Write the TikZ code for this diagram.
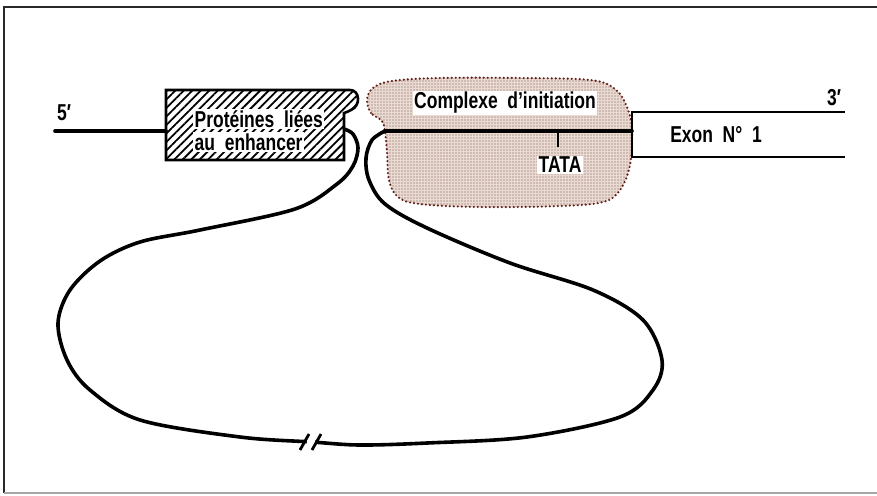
\documentclass[tikz,border=0pt]{standalone}
\usepackage{fontspec}
\setmainfont[FakeStretch=0.76, WordSpace=2]{Liberation Sans}
\usetikzlibrary{patterns.meta}
\definecolor{blobfill}{RGB}{234,218,210}
\definecolor{blobdot}{RGB}{115,85,78}
\definecolor{blobedge}{RGB}{100,30,22}
\definecolor{framec}{RGB}{40,40,40}
\tikzset{
  lbl/.style={font=\fontsize{23}{25}\selectfont\bfseries, fill=white, inner sep=1.5pt},
  endlbl/.style={font=\fontsize{23}{25}\selectfont\bfseries, inner sep=0pt},
  strand/.style={line width=3.6pt, line cap=round, line join=round},
  boxline/.style={line width=2.6pt},
}
\begin{document}
\begin{tikzpicture}[x=1pt, y=-1pt]
\useasboundingbox (0,0) rectangle (877,495);
% frame
\draw[framec, line width=2pt] (880,7) -- (4,7) -- (4,493);
\draw[gray!70, line width=1.2pt] (4,493) -- (880,493);

% complexe d'initiation blob
\def\blobpts{(382,121) (371,113) (367,100) (373,88) (392,81) (440,78) (520,78) (590,80)
 (615,89) (627,107) (632,130) (630,165) (620,190) (603,202) (560,206)
 (480,207) (420,204) (398,197) (389,180) (387,152) (385,132)}
\path[fill=blobfill] plot[smooth cycle, tension=0.6] coordinates {\blobpts};
\path[pattern={Dots[distance=3pt, radius=0.7pt]}, pattern color=blobdot] plot[smooth cycle, tension=0.6] coordinates {\blobpts};
\draw[blobedge, line width=2.4pt, line cap=round, dash pattern=on 0pt off 4pt] plot[smooth cycle, tension=0.6] coordinates {\blobpts};

% hatched box (enhancer proteins)
\coordinate (hbW) at (166,131);
\coordinate (hbE) at (344,129);
\path[fill=white] (166,90) -- (350,90) .. controls (360,90) and (361,106) .. (351,110)
  .. controls (348,112) and (346,112) .. (344,113) -- (344,160) -- (166,160) -- cycle;
\draw[boxline, pattern={Lines[angle=45, distance=6pt, line width=1.8pt]}]
  (166,90) -- (350,90) .. controls (360,90) and (361,106) .. (351,110)
  .. controls (348,112) and (346,112) .. (344,113) -- (344,160) -- (166,160) -- cycle;
\node[lbl, anchor=west] (prot) at (193,119) {Protéines liées};
\node[lbl, anchor=west] (enh) at (193,142) {au enhancer};

% 5' strand
\coordinate (five) at (55,131);
\draw[strand] (five) -- (hbW);
\node[endlbl] (l5) at (64,113) {5′};

% exon box
\coordinate (exTL) at (632,112);
\coordinate (exBL) at (632,157);
\draw[boxline] (845,112) -- (exTL) -- (exBL) -- (845,157);
\node[endlbl] (exon) at (716,135) {Exon N° 1};
\node[endlbl] (l3) at (834,98) {3′};

% promoter line and TATA
\coordinate (pS) at (385,131);
\draw[strand] (pS) -- (exTL |- pS);
\coordinate (tata0) at (558,131);
\draw[line width=2.2pt] (tata0) -- (558,147);
\node[lbl] (cx) at (505,103) {Complexe d’initiation};
\node[lbl] (tata) at (560,165) {TATA};

% loop
\draw[strand] plot[smooth, tension=0.55] coordinates {
 (hbE) (353,134) (358,148) (353,166) (337,184) (295,209) (200,230) (140,242)
 (100,261) (70,290) (58,323) (67,360) (90,390) (140,420) (240,437) (312,442)
 (360,445) (427,443) (527,437) (620,417) (653,390) (662,360) (643,320)
 (593,290) (510,263) (427,228) (385,204) (369,180) (366,158) (372,140) (pS)};
% break mark
\draw[white, line width=8pt] (307,441.5) -- (315,442);
\draw[line width=2.8pt] (300,450) -- (309,434);
\draw[line width=2.8pt] (312,450) -- (321,434);
\end{tikzpicture}
\end{document}
